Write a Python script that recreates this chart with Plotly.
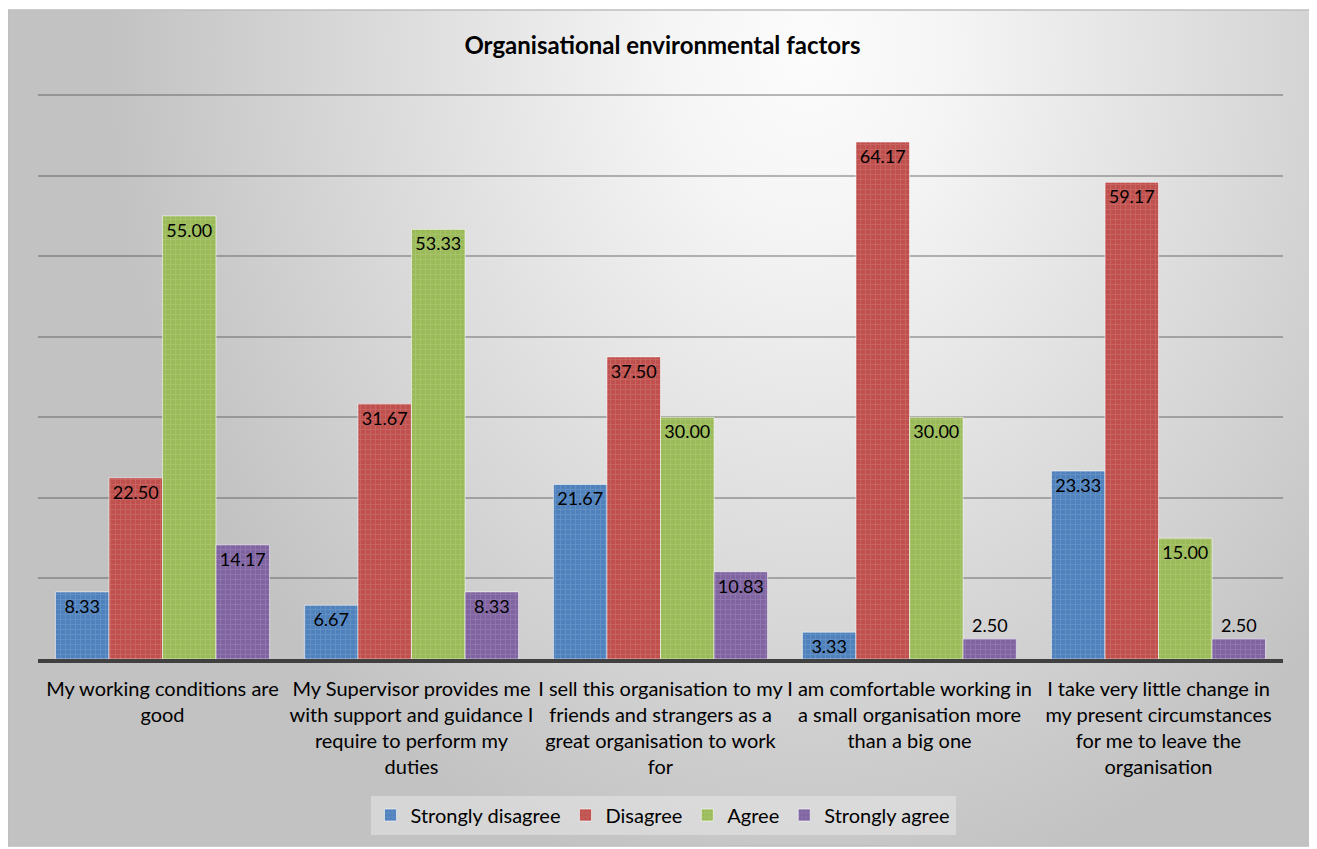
import base64
import plotly.graph_objects as go

categories = [
    "My working conditions are<br>good",
    "My Supervisor provides me<br>with support and guidance I<br>require to perform my<br>duties",
    "I sell this organisation to my<br>friends and strangers as a<br>great organisation to work<br>for",
    "I am comfortable working in<br>a small organisation more<br>than a big one",
    "I take very little change in<br>my present circumstances<br>for me to leave the<br>organisation",
]
strongly_disagree = [8.33, 6.67, 21.67, 3.33, 23.33]
disagree = [22.50, 31.67, 37.50, 64.17, 59.17]
agree = [55.00, 53.33, 30.00, 30.00, 15.00]
strongly_agree = [14.17, 8.33, 10.83, 2.50, 2.50]

series = [
    ("Strongly disagree", strongly_disagree, "#4F81BD"),
    ("Disagree", disagree, "#C0504D"),
    ("Agree", agree, "#9BBB59"),
    ("Strongly agree", strongly_agree, "#8064A2"),
]

FONT = "Lato"

fig = go.Figure()
for name, vals, color in series:
    fig.add_trace(go.Bar(
        name=name,
        x=categories,
        y=vals,
        text=[f"{v:.2f}" for v in vals],
        textposition=["outside" if v < 3 else "inside" for v in vals],
        insidetextanchor="end",
        textfont=dict(family=FONT, size=18, color="black"),
        marker=dict(
            color=color,
            line=dict(color="rgba(255,255,255,0.55)", width=1),
            pattern=dict(shape="+", fillmode="overlay",
                         fgcolor="rgba(255,255,255,0.22)", size=5, solidity=0.35),
        ),
    ))

# figure is drawn offset by the page's 8px body margin
W, H = 1309, 841
L, R, T, B = 30, 1275, 79, 651
PW, PH = R - L, B - T
BX0, BX1, BY0, BY1 = 0, 1304, 2, 838  # chart panel (figure px)

svg = (
    '<svg xmlns="http://www.w3.org/2000/svg" width="1304" height="836" '
    'viewBox="0 0 1304 836" preserveAspectRatio="none">'
    '<defs><radialGradient id="g" gradientUnits="userSpaceOnUse" cx="0" cy="0" r="1" '
    'gradientTransform="translate(800,40) scale(700,860)">'
    '<stop offset="0" stop-color="#fcfcfc"/>'
    '<stop offset="0.2" stop-color="#f5f5f5"/>'
    '<stop offset="1" stop-color="#c2c2c2"/>'
    '</radialGradient></defs>'
    '<rect x="0" y="0" width="1304" height="836" fill="url(#g)"/></svg>'
)
svg_uri = "data:image/svg+xml;base64," + base64.b64encode(svg.encode()).decode()


def px_x(px):
    return (px - L) / PW


def px_y(py):
    return (B - py) / PH


fig.update_layout(
    width=W, height=H,
    margin=dict(l=L, r=W - R, t=T, b=H - B, pad=0),
    paper_bgcolor="white",
    plot_bgcolor="rgba(0,0,0,0)",
    barmode="group",
    bargap=0.14,
    bargroupgap=0,
    font=dict(family=FONT, size=20, color="black"),
    title=dict(text="<b>Organisational environmental factors</b>",
               x=0.5, xanchor="center", y=1 - 38 / H, yanchor="middle",
               font=dict(family=FONT, size=24, color="black")),
    uniformtext=dict(mode="show", minsize=18),
    legend=dict(orientation="h", x=px_x(655), xanchor="center",
                y=px_y(807), yanchor="middle",
                bgcolor="rgba(232,232,232,0.55)",
                font=dict(family=FONT, size=20, color="black"),
                itemwidth=30, traceorder="normal"),
    images=[dict(source=svg_uri, xref="paper", yref="paper",
                 x=px_x(BX0), y=px_y(BY0), sizex=(BX1 - BX0) / PW, sizey=(BY1 - BY0) / PH,
                 xanchor="left", yanchor="top", sizing="stretch", layer="below")],
    shapes=[dict(type="rect", xref="paper", yref="paper",
                 x0=px_x(BX0), x1=px_x(BX1), y0=px_y(BY1), y1=px_y(BY0),
                 line=dict(color="#bfbfbf", width=1.5), layer="below")],
)
fig.update_yaxes(range=[0, 71], dtick=10, showticklabels=False, showgrid=True,
                 gridcolor="rgba(80,80,80,0.4)", gridwidth=2, zeroline=False,
                 showline=False)
fig.update_xaxes(showline=True, linecolor="#404040", linewidth=4,
                 tickfont=dict(family=FONT, size=20, color="black"),
                 ticks="", showgrid=False, tickangle=0, ticklabelstandoff=9)

fig.write_html("out.html")
